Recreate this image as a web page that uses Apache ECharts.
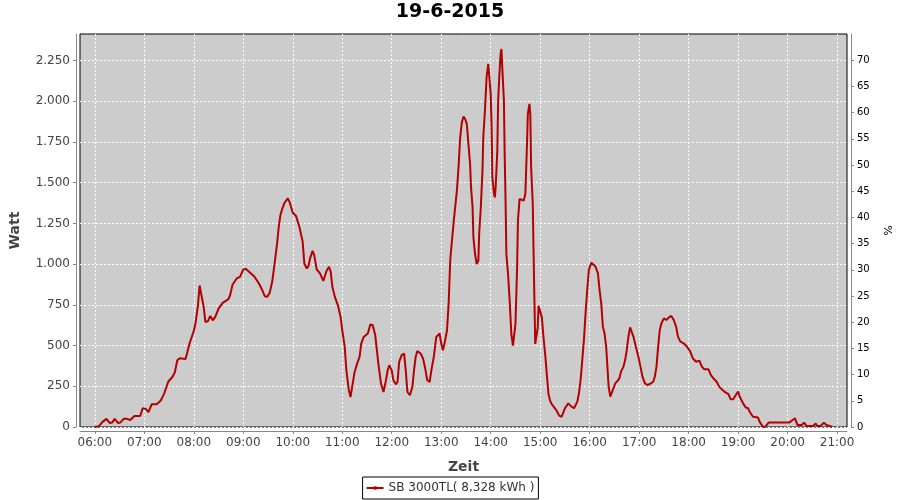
<!DOCTYPE html>
<html>
<head>
<meta charset="utf-8">
<script src="https://cdn.jsdelivr.net/npm/echarts@6/dist/echarts.min.js"></script>
<style>
html,body{margin:0;padding:0;background:#fff;}
#chart{width:900px;height:500px;}
</style>
</head>
<body>
<div id="chart"></div>
<script>
var titleText = '19-6-2015';
var seriesName = 'SB 3000TL( 8,328 kWh )';
var xTickLabels = ['06:00','07:00','08:00','09:00','10:00','11:00','12:00','13:00','14:00','15:00','16:00','17:00','18:00','19:00','20:00','21:00'];
var times = ['06:00','06:05','06:09','06:14','06:18','06:21','06:24','06:28','06:31','06:35','06:39','06:43','06:48','06:55','06:58',
'07:02','07:05','07:09','07:15','07:20','07:24','07:29','07:34','07:37','07:40','07:43','07:50','07:55',
'08:00','08:02','08:05','08:07','08:09','08:12','08:14','08:17','08:20','08:23','08:26','08:30','08:35','08:42','08:44','08:47','08:52','08:56',
'09:00','09:03','09:07','09:13','09:19','09:23','09:26','09:29','09:32','09:35','09:38','09:41','09:43','09:45','09:47','09:50','09:54','09:56',
'10:00','10:04','10:08','10:12','10:14','10:17','10:19','10:21','10:24','10:26','10:29','10:33','10:37','10:39','10:41','10:44','10:46','10:48','10:51','10:55','10:58',
'11:00','11:03','11:05','11:08','11:10','11:12','11:15','11:18','11:21','11:23','11:26','11:31','11:34','11:37','11:40','11:42','11:44','11:47','11:50','11:53','11:55','11:57',
'12:00','12:02','12:05','12:07','12:09','12:12','12:15','12:17','12:19','12:22','12:25','12:27','12:29','12:31','12:35','12:38','12:41','12:43','12:46','12:48','12:51','12:54','12:58',
'13:00','13:02','13:04','13:07','13:09','13:11','13:13','13:15','13:17','13:19','13:21','13:23','13:25','13:27','13:29','13:31','13:33','13:35','13:36','13:38','13:39','13:41','13:43','13:45','13:46','13:48','13:50','13:51','13:53','13:55','13:57','13:58',
'14:00','14:01','14:02','14:04','14:05','14:06','14:08','14:09','14:11','14:12','14:13','14:14','14:16','14:17','14:18','14:19','14:21','14:23','14:25','14:27','14:29','14:30','14:32','14:33','14:35','14:37','14:40','14:42','14:44','14:45','14:47','14:48','14:49','14:51','14:52','14:53','14:54','14:55','14:57','14:58',
'15:00','15:02','15:04','15:06','15:08','15:10','15:12','15:14','15:17','15:20','15:23','15:26','15:28','15:30','15:34','15:38','15:41','15:45','15:47','15:49','15:51','15:53','15:55','15:57','15:59',
'16:02','16:04','16:07','16:10','16:12','16:14','16:16','16:18','16:20','16:22','16:23','16:25','16:26','16:28','16:31','16:34','16:36','16:38','16:41','16:43','16:45','16:47','16:49','16:51','16:53','16:56','16:59',
'17:02','17:04','17:07','17:10','17:13','17:17','17:19','17:21','17:23','17:25','17:27','17:30','17:33','17:36','17:39','17:42','17:45','17:47','17:50','17:54','17:58',
'18:02','18:05','18:09','18:13','18:16','18:19','18:24','18:27','18:31','18:34','18:37','18:41','18:45','18:48','18:51','18:54','18:58',
'19:00','19:02','19:06','19:09','19:12','19:14','19:18','19:24','19:26','19:30','19:33','19:37','19:41',
'20:02','20:06','20:09','20:12','20:14','20:17','20:20','20:23','20:31','20:34','20:36','20:40','20:44','20:47','20:49','20:54'];
var watts = [0,5,30,50,25,27,50,25,28,50,50,43,68,68,115,
110,92,140,140,163,205,278,307,336,410,422,418,516,
590,635,746,869,865,737,645,649,682,655,676,727,762,785,809,875,912,922,
967,971,953,926,881,840,803,799,824,890,1004,1127,1230,1301,1336,1377,1404,1383,
1315,1295,1229,1137,1004,973,988,1035,1082,1055,967,943,897,891,959,984,953,861,799,742,676,
594,492,348,225,184,246,338,389,430,512,553,574,629,625,563,471,379,266,215,287,348,379,
348,287,262,277,400,441,451,348,215,195,246,348,430,467,451,420,348,287,277,348,430,553,574,
512,471,512,594,760,1030,1144,1255,1355,1451,1595,1779,1871,1906,1891,1861,1738,1615,1482,1349,1165,1062,1001,1021,1185,1349,1574,1779,1943,2147,2229,2233,
2045,1861,1533,1431,1410,1472,1697,2004,2209,2291,2321,2209,2004,1656,1390,1062,940,776,571,499,489,633,981,1267,1400,1390,1390,1431,1738,1922,1984,1922,1595,1369,1062,776,510,499,612,745,
735,673,551,448,325,203,162,141,121,100,70,63,75,115,145,125,115,156,207,289,411,534,698,841,964,
1009,1009,985,944,841,759,616,575,493,330,248,186,176,227,268,285,299,340,371,411,473,555,612,606,555,493,432,
360,309,268,258,264,278,309,371,493,596,637,667,657,673,682,657,612,555,524,514,493,
463,422,401,407,371,354,354,319,293,278,248,227,211,203,170,170,203,
217,186,145,121,115,94,63,59,33,2,2,27,27,
27,43,53,12,2,12,27,6,6,22,6,6,27,12,2,2];
var yTickLabels = [0,250,500,750,1000,1250,1500,1750,2000,2250];
var pctTickLabels = [0,5,10,15,20,25,30,35,40,45,50,55,60,65,70];

function toHours(s){ var p = s.split(':'); return +p[0] + (+p[1])/60; }
var seriesData = times.map(function(t,i){ return [toHours(t), watts[i]]; });
var xTickValues = xTickLabels.map(toHours);
function fmtHour(v){ var m = Math.round(v*60); var h = Math.floor(m/60); var mm = m%60; return (h<10?'0':'')+h+':'+(mm<10?'0':'')+mm; }
function fmtThousands(v){ return String(Math.round(v)).replace(/\B(?=(\d{3})+(?!\d))/g,'.'); }

var FONT = 'DejaVu Sans';
var gridLine = { show:true, lineStyle:{ color:'#ffffff', width:1, type:[2,2] } };

var chart = echarts.init(document.getElementById('chart'), null, {renderer:'canvas'});
chart.setOption({
  animation:false,
  backgroundColor:'#ffffff',
  title:{ text:titleText, left:'center', top:3, padding:0,
    textStyle:{ fontFamily:FONT, fontSize:19, fontWeight:'bold', color:'#000' } },
  legend:{ data:[seriesName], left:'center', top:477, padding:[4,4,4,3],
    borderColor:'#000', borderWidth:1, itemWidth:17, itemHeight:4,
    textStyle:{ fontFamily:FONT, fontSize:12, color:'#333', lineHeight:14 } },
  grid:{ left:79, right:52, top:34, bottom:73, show:true, backgroundColor:'#cccccc',
    borderColor:'#000', borderWidth:1, containLabel:false },
  xAxis:{ type:'value', min:5.7, max:21.2, minInterval:1, maxInterval:1, splitNumber:15,
    offset:4, name:'Zeit', nameLocation:'middle', nameGap:29,
    nameTextStyle:{ fontFamily:FONT, fontSize:14, fontWeight:'bold', color:'#444' },
    axisLine:{ show:true, onZero:false, lineStyle:{ color:'#888', width:1 } },
    axisTick:{ show:true, length:3, customValues:xTickValues, lineStyle:{ color:'#888' } },
    axisLabel:{ customValues:xTickValues, margin:6,
      fontFamily:FONT, fontSize:12, color:'#444', formatter:fmtHour },
    splitLine:gridLine },
  yAxis:[
    { type:'value', min:0, max:2413, interval:250, position:'left', offset:4,
      name:'Watt', nameLocation:'middle', nameGap:54, nameRotate:90,
      nameTextStyle:{ fontFamily:FONT, fontSize:14, fontWeight:'bold', color:'#444' },
      axisLine:{ show:true, lineStyle:{ color:'#888', width:1 } },
      axisTick:{ show:true, length:3, customValues:yTickLabels, lineStyle:{ color:'#888' } },
      axisLabel:{ customValues:yTickLabels, margin:6,
        fontFamily:FONT, fontSize:12, color:'#444', formatter:fmtThousands },
      splitLine:gridLine },
    { type:'value', min:0, max:75, interval:5, position:'right', offset:4,
      name:'%', nameLocation:'middle', nameGap:30, nameRotate:-90,
      nameTextStyle:{ fontFamily:FONT, fontSize:11, color:'#000' },
      axisLine:{ show:true, lineStyle:{ color:'#888', width:1 } },
      axisTick:{ show:true, length:3, customValues:pctTickLabels, lineStyle:{ color:'#888' } },
      axisLabel:{ customValues:pctTickLabels, margin:6,
        fontFamily:FONT, fontSize:10, color:'#000' },
      splitLine:{ show:false } }
  ],
  series:[{ name:seriesName, type:'line', xAxisIndex:0, yAxisIndex:0, data:seriesData,
    showSymbol:false, symbol:'rect', symbolSize:3,
    itemStyle:{ color:'#b40000' },
    lineStyle:{ color:'#b40000', width:2 } }]
});
</script>
</body>
</html>
